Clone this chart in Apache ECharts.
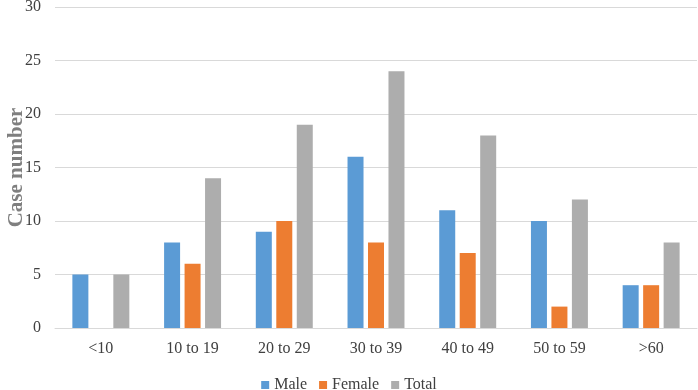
<!DOCTYPE html>
<html><head><meta charset="utf-8">
<script src="https://cdn.jsdelivr.net/npm/echarts@6/dist/echarts.min.js"></script>
<style>html,body{margin:0;padding:0;background:#fff}#c{width:698px;height:390px}</style>
</head><body><div id="c"></div>
<script>
var categories = ['<10', '10 to 19', '20 to 29', '30 to 39', '40 to 49', '50 to 59', '>60'];
var male = [5, 8, 9, 16, 11, 10, 4];
var female = [0, 6, 10, 8, 7, 2, 4];
var total = [5, 14, 19, 24, 18, 12, 8];
var yTicks = [0, 5, 10, 15, 20, 25, 30];

var font = '"Liberation Serif", "Times New Roman", serif';
var chart = echarts.init(document.getElementById('c'), null, {renderer: 'canvas'});
chart.setOption({
  animation: false,
  textStyle: {fontFamily: font},
  grid: {left: 55, right: 1, top: 7, bottom: 62, containLabel: false, outerBoundsMode: 'none'},
  legend: {
    top: 372, left: 'center', itemWidth: 8, itemHeight: 8, itemGap: 12,
    icon: 'rect',
    textStyle: {fontFamily: font, fontSize: 16, color: '#404040'},
    data: ['Male', 'Female', 'Total']
  },
  xAxis: {
    type: 'category', data: categories,
    axisLine: {lineStyle: {color: '#D9D9D9', width: 1}},
    axisTick: {show: false},
    axisLabel: {fontFamily: font, fontSize: 16, color: '#404040', margin: 13}
  },
  yAxis: {
    type: 'value', min: yTicks[0], max: yTicks[yTicks.length - 1], interval: 5,
    name: 'Case number', nameLocation: 'middle', nameGap: 28, nameMoveOverlap: false,
    nameTextStyle: {fontFamily: font, fontSize: 21, fontWeight: 'bold', color: '#7F7F7F'},
    axisLine: {show: false}, axisTick: {show: false},
    axisLabel: {fontFamily: font, fontSize: 16, color: '#404040', margin: 14},
    splitLine: {lineStyle: {color: '#D9D9D9', width: 1}}
  },
  series: [
    {name: 'Male', type: 'bar', data: male, barWidth: 16, barGap: '28%', itemStyle: {color: '#5B9BD5'}},
    {name: 'Female', type: 'bar', data: female, barWidth: 16, barGap: '28%', itemStyle: {color: '#ED7D31'}},
    {name: 'Total', type: 'bar', data: total, barWidth: 16, barGap: '28%', itemStyle: {color: '#ADADAD'}}
  ]
});
</script></body></html>
